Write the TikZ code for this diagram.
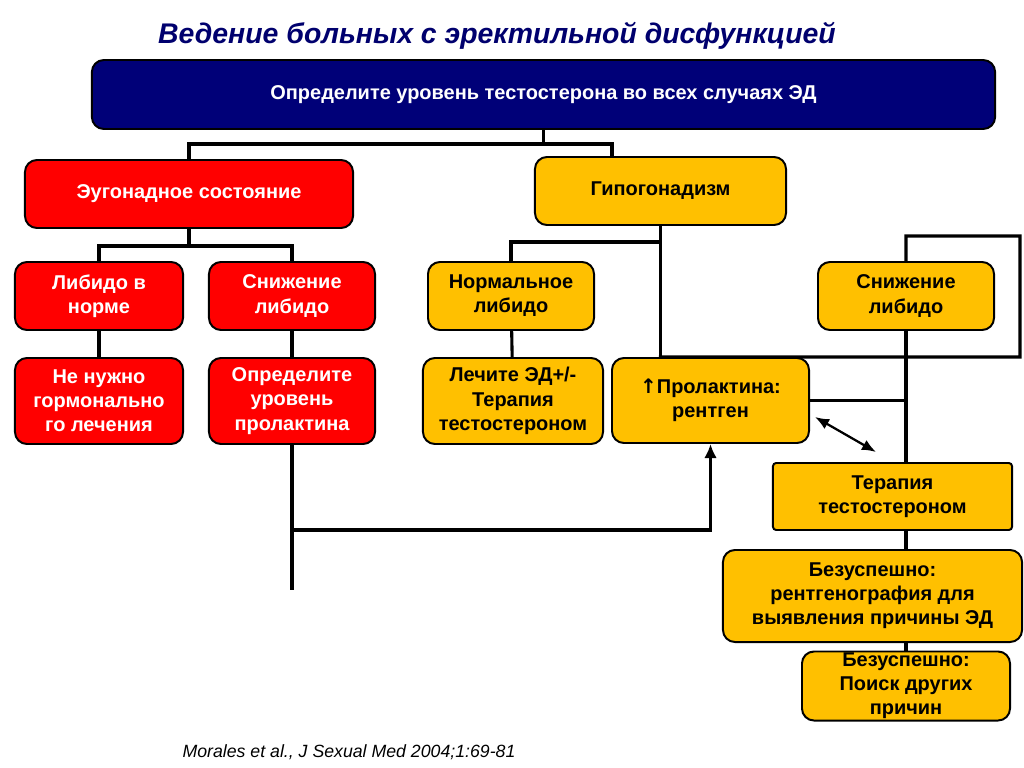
\documentclass[tikz,border=0pt]{standalone}
\usepackage{fontspec}
\setmainfont{Liberation Sans}
\newfontfamily\symfont{DejaVu Sans}
\usepackage{xcolor}
\usepackage{tikz}
\usetikzlibrary{positioning,calc,arrows.meta}
\definecolor{navybox}{RGB}{0,0,120}
\definecolor{redbox}{RGB}{255,0,0}
\definecolor{goldbox}{RGB}{255,192,0}
\definecolor{titleblue}{RGB}{0,0,110}
\tikzstyle{rbox}= [draw=black, line width=1.4pt, rounded corners=0.3cm, inner sep=0pt, align=center, font=\fontsize{14.2pt}{17.2pt}\selectfont\bfseries]
\tikzstyle{redn}= [rbox, fill=redbox, text=white]
\tikzstyle{goldn}= [rbox, fill=goldbox, text=black]
\tikzstyle{con}= [line width=2.2pt, line cap=rect]

\begin{document}
\begin{tikzpicture}[x=0.025cm, y=-0.025cm]
				\useasboundingbox[fill=white] (0,0) rectangle (1024,768);
				\node[text=titleblue, font=\fontsize{20.2pt}{24pt}\selectfont\bfseries\itshape] (title) at (497,36) {Ведение больных с эректильной дисфункцией};
				\node[rbox, fill=navybox, text=white, minimum width=22.575cm, minimum height=1.725cm] (top) at (543.5,94.5) {Определите уровень тестостерона во всех случаях ЭД};

				\node[redn, minimum width=8.2cm, minimum height=1.7cm] (eug) at (189,194) {Эугонадное состояние};
				\node[goldn, minimum width=6.275cm, minimum height=1.7cm] (hypo) at (660.5,191) {Гипогонадизм};

				\node[redn, minimum width=4.2cm, minimum height=1.7cm] (lib) at (99,296) {Либидо в\\норме};
				\node[redn, minimum width=4.15cm, minimum height=1.7cm] (low) at (292,296) {Снижение\\либидо};
				\node[redn, minimum width=4.2cm, minimum height=2.15cm] (notreat) at (99,401) {Не нужно\\гормонально\\го лечения};
				\node[redn, minimum width=4.15cm, minimum height=2.15cm] (prl) at (292,401) {Определите\\уровень\\пролактина};

				\node[goldn, minimum width=4.15cm, minimum height=1.7cm] (norm) at (511,296) {Нормальное\\либидо};
				\node[goldn, minimum width=4.5cm, minimum height=2.15cm] (treat) at (513,401) {Лечите ЭД+/-\\Терапия\\тестостероном};
				\node[goldn, minimum width=4.925cm, minimum height=2.125cm] (pro) at (710.5,400.5) {{\symfont↑}Пролактина:\\рентген};
				\node[goldn, minimum width=4.4cm, minimum height=1.7cm] (lowH) at (906,296) {Снижение\\либидо};
				\node[goldn, rounded corners=0.08cm, minimum width=5.975cm, minimum height=1.675cm] (ther) at (892.5,496.5) {Терапия\\тестостероном};
				\node[goldn, minimum width=7.475cm, minimum height=2.3cm] (fail1) at (872.5,596) {Безуспешно:\\рентгенография для\\выявления причины ЭД};
				\node[goldn, minimum width=5.2cm, minimum height=1.725cm] (fail2) at (906,686) {Безуспешно:\\Поиск других\\причин};

				\node[font=\fontsize{12.6pt}{15pt}\selectfont\itshape, text=black] (ref) at (349,752) {Morales et al., J Sexual Med 2004;1:69-81};

				\coordinate (hj) at (612,143);
				\coordinate (rc) at (1020,357);
				\coordinate (pend) at (294,588);
				\coordinate (da1) at (815,417);
				\coordinate (da2) at (876,452);

				\draw[con] (top.south) -- ++(0,14) -| (eug.north);
				\draw[con] (top.south) -- ++(0,14) -| (hj |- hypo.north);
				\draw[con] (eug.south) -- ++(0,17) -| (lib.north);
				\draw[con] (eug.south) -- ++(0,17) -| (low.north);
				\draw[con] (lib) -- (notreat);
				\draw[con] (low) -- (prl);
				\draw[con] (prl.south) -- (prl.south |- pend);
				\draw[con, -{Latex[length=10pt,width=9pt]}] (prl.south |- 0,530) -| (pro.south);

				\draw[con] (hypo.south) -- (hypo.south |- pro.north);
				\draw[con] (hypo.south |- 0,242) -| (norm.north);
				\draw[con] (norm) -- (treat);
				\draw[con] (hypo.south |- pro.north) -- (rc) |- (lowH.north |- 0,236) -- (lowH.north);
				\draw[con] (lowH.south) -- (lowH.south |- ther.north);
				\draw[con] (pro.east) -- (pro.east -| lowH.south);
				\draw[line width=1.6pt, {Latex[length=10pt,width=8pt]}-{Latex[length=10pt,width=8pt]}] (da1) -- (da2);
				\draw[con] (ther.south -| lowH.south) -- (fail1.north -| lowH.south);
				\draw[con] (fail1.south -| lowH.south) -- (fail2.north);
			\end{tikzpicture}
\end{document}
